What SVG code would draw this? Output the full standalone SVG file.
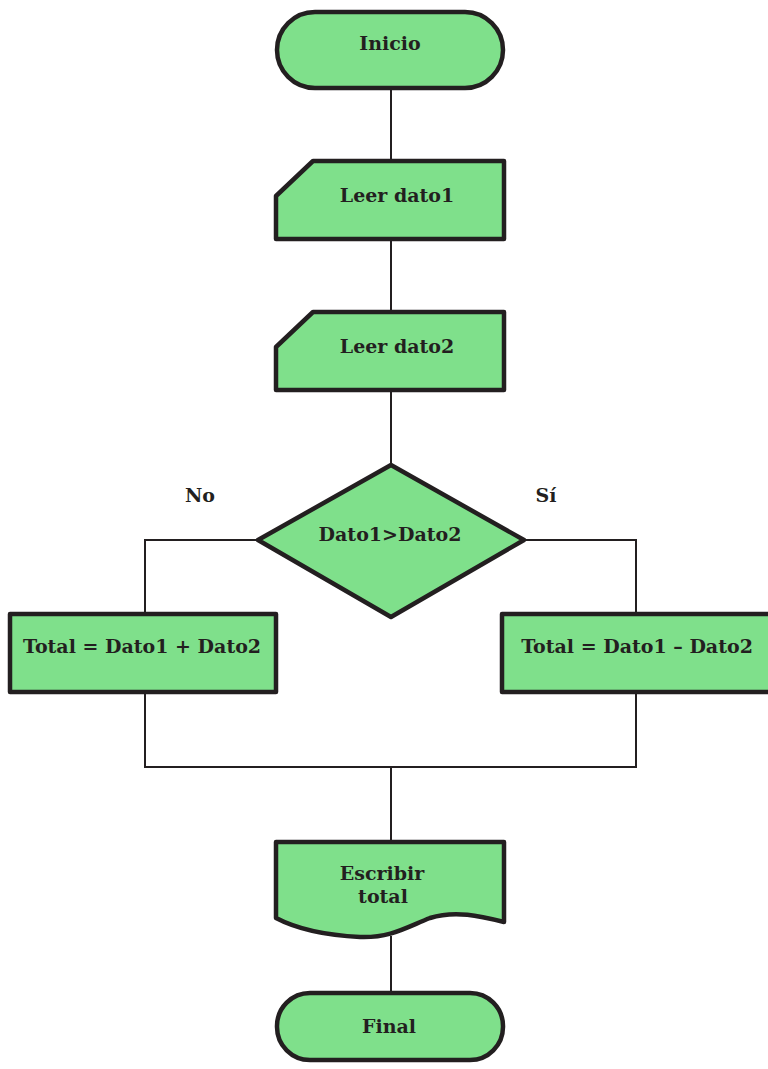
<svg xmlns="http://www.w3.org/2000/svg" width="768" height="1069" viewBox="0 0 768 1069">
<style>
.n{fill:#7fe08b;stroke:#231f20;stroke-width:4.5;stroke-linejoin:round}
.c{fill:none;stroke:#231f20;stroke-width:2}
text{font-family:"DejaVu Serif","Liberation Serif",serif;font-weight:bold;font-size:19px;fill:#231f20;text-anchor:middle}
</style>
<rect width="768" height="1069" fill="#ffffff"/>
<g id="connectors">
<path class="c" d="M391 88V161M391 239V312M391 390V465"/>
<path class="c" d="M258 540H145V614M524 540H636V614"/>
<path class="c" d="M145 692V767H636V692M391 767V842M391 936V993"/>
</g>
<g id="inicio"><rect class="n" x="277" y="12" width="226" height="76" rx="38"/><text x="390" y="50">Inicio</text></g>
<g id="leer1"><path class="n" d="M313 161H504V239H276V196Z"/><text x="397" y="202">Leer dato1</text></g>
<g id="leer2"><path class="n" d="M313 312H504V390H276V347Z"/><text x="397" y="353">Leer dato2</text></g>
<g id="decision"><path class="n" d="M391 465L524 540L391 617L258 540Z"/><text x="390" y="541">Dato1&gt;Dato2</text></g>
<text x="200" y="502">No</text>
<text x="546" y="502">Sí</text>
<g id="suma"><rect class="n" x="10" y="614" width="266" height="78"/><text x="142" y="653">Total = Dato1 + Dato2</text></g>
<g id="resta"><rect class="n" x="502" y="614" width="270" height="78"/><text x="637" y="653">Total = Dato1 – Dato2</text></g>
<g id="escribir"><path class="n" d="M276 842H504V922C480 916 455 910 430 918C405 928 390 938 360 937C320 935 295 928 276 918Z"/><text x="382" y="880">Escribir</text><text x="383" y="903">total</text></g>
<g id="final"><rect class="n" x="277" y="993" width="226" height="67" rx="33"/><text x="389" y="1033">Final</text></g>
</svg>
